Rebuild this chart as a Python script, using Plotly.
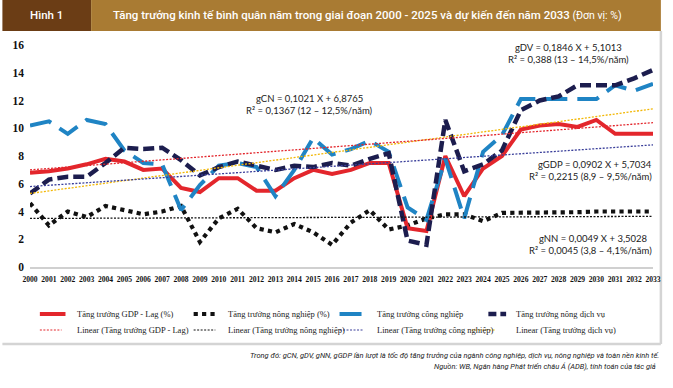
import plotly.graph_objects as go

years = [str(y) for y in range(2000, 2034)]

gdp = [6.8, 6.9, 7.1, 7.4, 7.8, 7.6, 7.0, 7.1, 5.7, 5.4, 6.4, 6.4, 5.5, 5.5, 6.4, 7.0, 6.7, 7.0, 7.5, 7.5,
       2.8, 2.6, 8.0, 5.1, 7.1, 8.0, 9.9, 10.2, 10.3, 10.1, 10.6, 9.6, 9.6, 9.6]
agri = [4.6, 3.0, 4.0, 3.6, 4.4, 4.1, 3.8, 4.0, 4.4, 1.8, 3.5, 4.2, 2.8, 2.5, 3.1, 2.5, 1.6, 3.2, 4.1, 2.7,
        3.0, 3.5, 3.8, 3.8, 3.3, 3.9, 3.9, 3.9, 3.9, 3.95, 4.0, 4.0, 4.0, 4.0]
industry = [10.2, 10.5, 9.6, 10.6, 10.3, 8.4, 7.5, 7.4, 4.1, 5.9, 7.3, 7.5, 7.2, 5.1, 7.0, 9.3, 8.1, 8.5, 9.1, 8.3,
            4.3, 3.4, 7.8, 3.5, 8.3, 9.5, 12.1, 12.1, 12.1, 12.1, 12.1, 13.1, 12.7, 13.2]
services = [5.3, 6.3, 6.5, 6.5, 7.5, 8.6, 8.5, 8.6, 7.7, 6.6, 7.2, 7.6, 7.3, 7.0, 7.3, 7.2, 7.5, 7.3, 7.8, 8.2,
            1.9, 1.6, 10.6, 6.9, 7.4, 8.4, 11.3, 12.0, 12.3, 13.1, 13.1, 13.1, 13.6, 14.2]

trend_x = ["2000", "2033"]
trend_gdp = [7.0, 10.4]
trend_agri = [3.5, 3.65]
trend_ind = [5.8, 8.8]
trend_svc = [5.3, 11.4]

y_ticks = [0, 2, 4, 6, 8, 10, 12, 14, 16]

title_main = "Tăng trưởng kinh tế bình quân năm trong giai đoạn 2000 - 2025 và dự kiến đến năm 2033"
title_unit = " (Đơn vị: %)"
legend_rows = [
    [("Tăng trưởng GDP - Lag (%)", "gdp"), ("Tăng trưởng nông nghiệp (%)", "agri"),
     ("Tăng trưởng công nghiệp", "ind"), ("Tăng trưởng nông dịch vụ", "svc")],
    [("Linear (Tăng trưởng GDP - Lag)", "tgdp"), ("Linear (Tăng trưởng nông nghiệp)", "tagri"),
     ("Linear (Tăng trưởng công nghiệp)", "tind"), ("Linear (Tăng trưởng dịch vụ)", "tsvc")],
]

RED = "#e3262c"
BLUE = "#1f84c4"
NAVY = "#1c1d4e"
BLACK = "#111111"
YELLOW = "#f2b705"
NAVY_T = "#3a3f9a"

styles = {
    "gdp": dict(color=RED, width=4, dash="solid"),
    "agri": dict(color=BLACK, width=4.2, dash="dot"),
    "ind": dict(color=BLUE, width=4, dash="22px,10px"),
    "svc": dict(color=NAVY, width=4.5, dash="11px,5px"),
    "tgdp": dict(color=RED, width=1.3, dash="2px,1.5px"),
    "tagri": dict(color=BLACK, width=1.3, dash="2px,1.5px"),
    "tind": dict(color=NAVY_T, width=1.3, dash="2px,1.5px"),
    "tsvc": dict(color=YELLOW, width=1.3, dash="2px,1.5px"),
}

W, H = 673, 388
L, R, T, B = 28, 13, 45, 121
PW, PH = W - L - R, H - T - B


def px(x):
    return (x - L) / PW


def py(y):
    return (H - B - y) / PH


fig = go.Figure()

for ys, key in [(agri, "agri"), (gdp, "gdp"), (industry, "ind"), (services, "svc")]:
    fig.add_trace(go.Scatter(x=years, y=ys, mode="lines", line=styles[key]))

for ys, key in [(trend_agri, "tagri"), (trend_svc, "tsvc"), (trend_ind, "tind"), (trend_gdp, "tgdp")]:
    fig.add_trace(go.Scatter(x=trend_x, y=ys, mode="lines", line=styles[key], hoverinfo="skip"))

shapes = []
annotations = []

# header band
shapes.append(dict(type="rect", xref="paper", yref="paper", x0=px(0), x1=px(90), y0=py(31), y1=py(0),
                   fillcolor="#6b3d15", line=dict(width=0), layer="below"))
shapes.append(dict(type="rect", xref="paper", yref="paper", x0=px(90), x1=px(668), y0=py(31), y1=py(0),
                   fillcolor="#a97b33", line=dict(width=0), layer="below"))
annotations.append(dict(text="Hình 1", xref="paper", yref="paper", x=px(45), y=py(15), showarrow=False,
                        xanchor="center", yanchor="middle",
                        font=dict(family="Roboto", size=11.5, color="white", weight=500)))
annotations.append(dict(text=title_main + "<span style='font-size:10.5px;font-weight:400'>" + title_unit + "</span>",
                        xref="paper", yref="paper", x=px(110), y=py(15), showarrow=False,
                        xanchor="left", yanchor="middle",
                        font=dict(family="Roboto", size=11.5, color="white", weight=500)))

# panel shadow
shapes.append(dict(type="line", xref="paper", yref="paper", x0=px(668), x1=px(668), y0=py(31), y1=py(344),
                   line=dict(color="#d4d4d4", width=2.5), layer="below"))
shapes.append(dict(type="line", xref="paper", yref="paper", x0=px(0), x1=px(668), y0=py(344), y1=py(344),
                   line=dict(color="#d4d4d4", width=2.5), layer="below"))

# equations
eq_font = dict(family="Lato", size=9.5, color="#222222")
eqs = [
    ("gCN = 0,1021 X + 6,8765", 312, 98, "center"),
    ("R² = 0,1367 (12 – 12,5%/năm)", 312, 111, "center"),
    ("gDV = 0,1846 X + 5,1013", 574, 47, "center"),
    ("R² = 0,388 (13 – 14,5%/năm)", 574, 59, "center"),
    ("gGDP = 0,0902 X + 5,7034", 661, 164, "right"),
    ("R² = 0,2215 (8,9 – 9,5%/năm)", 661, 177, "right"),
    ("gNN = 0,0049 X + 3,5028", 657, 238, "right"),
    ("R² = 0,0045 (3,8 – 4,1%/năm)", 661, 250, "right"),
]
for txt, x, y, anc in eqs:
    annotations.append(dict(text=txt, xref="paper", yref="paper", x=px(x), y=py(y), showarrow=False,
                            xanchor=anc, yanchor="middle", font=eq_font))

# manual legend
item_x = [38, 194, 342, 476]
text_x = [74, 227, 378, 519]
row_y = [314, 330]
sym_len = {"gdp": 26, "agri": 22, "ind": 26, "svc": 18, "tgdp": 22, "tagri": 22, "tind": 24, "tsvc": 24}
sym_off = {"svc": 17, "agri": 0}
for r, row in enumerate(legend_rows):
    for i, (txt, key) in enumerate(row):
        st = dict(styles[key])
        x0 = item_x[i] + sym_off.get(key, 0)
        if key == "svc":
            st["dash"] = "8px,4px"
        shapes.append(dict(type="line", xref="paper", yref="paper", x0=px(x0), x1=px(x0 + sym_len[key]),
                           y0=py(row_y[r]), y1=py(row_y[r]),
                           line=dict(color=st["color"], width=st["width"] if st["width"] > 2 else 1.2,
                                     dash=st["dash"])))
        annotations.append(dict(text=txt, xref="paper", yref="paper", x=px(text_x[i]), y=py(row_y[r]),
                                showarrow=False, xanchor="left", yanchor="middle",
                                font=dict(family="Liberation Serif", size=8.5, color="#222222")))

# footer
foot_font = dict(family="Roboto", size=7.5, color="#222222", style="italic")
annotations.append(dict(text="Trong đó: gCN, gDV, gNN, gGDP lần lượt là tốc độ tăng trưởng của ngành công nghiệp, dịch vụ, nông nghiệp và toàn nền kinh tế.",
                        xref="paper", yref="paper", x=px(668), y=py(355), showarrow=False,
                        xanchor="right", yanchor="middle", font=foot_font))
annotations.append(dict(text="Nguồn: WB, Ngân hàng Phát triển châu Á (ADB), tính toán của tác giả",
                        xref="paper", yref="paper", x=px(665), y=py(366), showarrow=False,
                        xanchor="right", yanchor="middle", font=foot_font))

fig.update_layout(
    width=W, height=H,
    margin=dict(l=L, r=R, t=T, b=B),
    paper_bgcolor="white", plot_bgcolor="white",
    showlegend=False,
    shapes=shapes, annotations=annotations,
    xaxis=dict(type="category", categoryorder="array", categoryarray=years,
               showgrid=False, zeroline=False, showline=True, linecolor="#d0d0d0",
               linewidth=1.5, ticks="", tickangle=0, ticklabelstandoff=4, ticklabeloverflow="allow",
               tickfont=dict(family="Liberation Serif", size=7.6, color="#111111", weight="bold")),
    yaxis=dict(range=[0, 16], tickvals=y_ticks, showgrid=False, zeroline=False, showline=False,
               ticks="", ticklabelstandoff=5,
               tickfont=dict(family="Liberation Serif", size=11.5, color="#111111", weight="bold")),
)

fig.write_html("out.html")
